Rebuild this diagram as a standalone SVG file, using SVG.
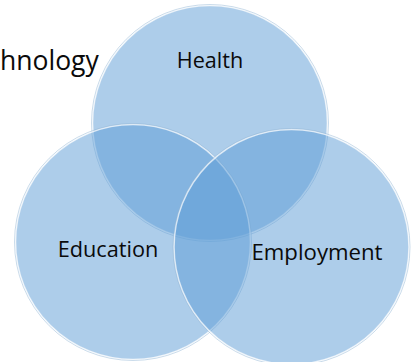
<svg xmlns="http://www.w3.org/2000/svg" width="414" height="362" viewBox="0 0 414 362">
<style>
.c{fill:#5B9BD5;fill-opacity:0.5;stroke:#ffffff;stroke-opacity:0.7;stroke-width:1.6}
.r{fill:none;stroke:#8fb3d3;stroke-opacity:0.6;stroke-width:0.8}
.t{font-family:"Open Sans","Noto Sans",sans-serif;fill:#0a0a0a;text-anchor:middle}
</style>
<rect width="414" height="362" fill="#ffffff"/>
<text class="t" x="0" y="70" font-size="26.5" style="text-anchor:start">hnology</text>
<g id="health">
<circle class="c" cx="210" cy="123" r="117.5"/>
<circle class="r" cx="210" cy="123" r="118.5"/>
<text class="t" x="210" y="68" font-size="21.6">Health</text>
</g>
<g id="education">
<circle class="c" cx="133" cy="242" r="117.5"/>
<circle class="r" cx="133" cy="242" r="118.5"/>
<text class="t" x="108" y="257" font-size="21.7">Education</text>
</g>
<g id="employment">
<circle class="c" cx="291.5" cy="247" r="117.5"/>
<circle class="r" cx="291.5" cy="247" r="118.5"/>
<text class="t" x="317" y="260" font-size="22.2">Employment</text>
</g>
<g id="connectors"/>
</svg>
